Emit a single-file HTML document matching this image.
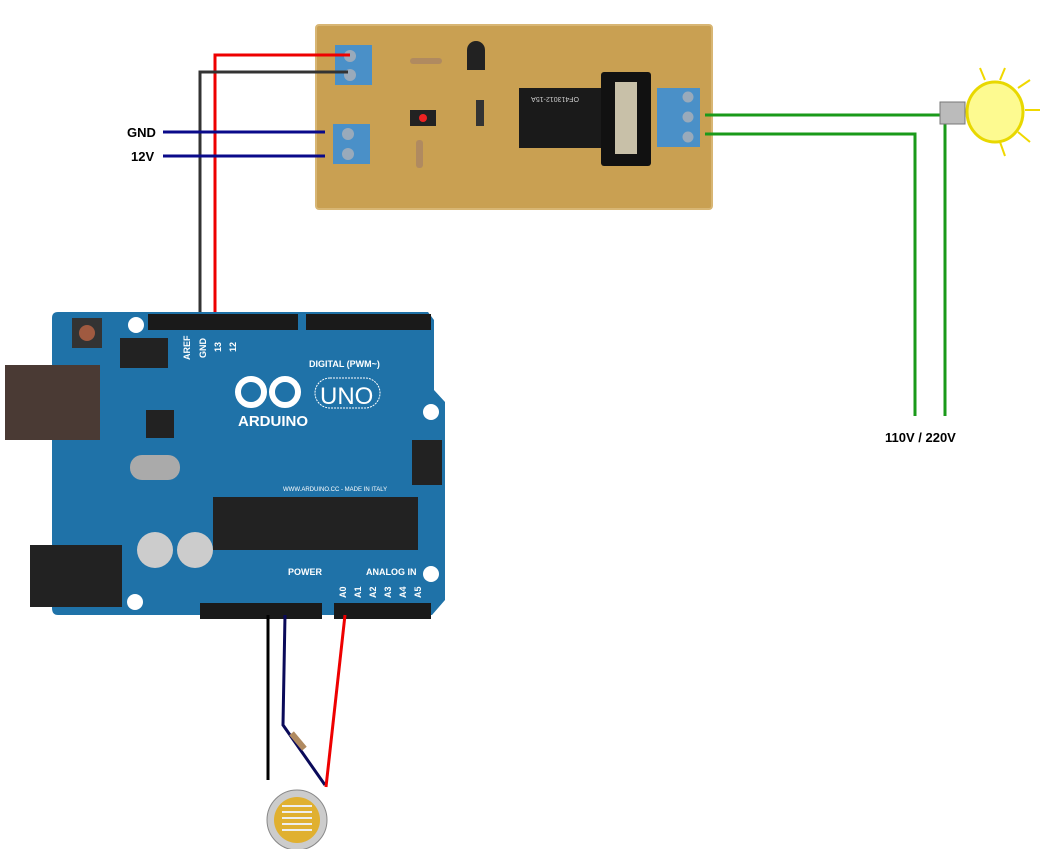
<!DOCTYPE html>
<html><head><style>html,body{margin:0;padding:0;background:#fff}svg{display:block}</style></head>
<body>
<svg width="1051" height="849" viewBox="0 0 1051 849" xmlns="http://www.w3.org/2000/svg" font-family="Liberation Sans, sans-serif">
<rect x="316" y="25" width="396" height="184" rx="3" fill="#c9a052"/>
<rect x="316" y="25" width="396" height="184" rx="3" fill="none" stroke="#d8b674" stroke-width="2"/>
<rect x="335" y="45" width="37" height="40" fill="#4a90c8"/>
<circle cx="350" cy="56" r="6" fill="#9ab"/><circle cx="350" cy="75" r="6" fill="#9ab"/>
<rect x="333" y="124" width="37" height="40" fill="#4a90c8"/>
<circle cx="348" cy="134" r="6" fill="#9ab"/><circle cx="348" cy="154" r="6" fill="#9ab"/>
<rect x="657" y="88" width="43" height="59" fill="#4a90c8"/>
<circle cx="688" cy="97" r="5.5" fill="#9ab"/><circle cx="688" cy="117" r="5.5" fill="#9ab"/><circle cx="688" cy="137" r="5.5" fill="#9ab"/>
<rect x="410" y="58" width="32" height="6" rx="3" fill="#b08a60"/>
<path d="M467 50 a9 9 0 0 1 18 0 v20 h-18z" fill="#222"/>
<rect x="410" y="110" width="26" height="16" fill="#222"/><circle cx="423" cy="118" r="4" fill="#e22"/>
<rect x="416" y="140" width="7" height="28" rx="3" fill="#b08a60"/>
<rect x="476" y="100" width="8" height="26" fill="#333"/>
<rect x="519" y="88" width="87" height="60" fill="#1a1a1a"/>
<text x="545" y="103" font-size="7" fill="#ccc" transform="rotate(180 562 100)">OF413012-15A</text>
<rect x="601" y="72" width="50" height="94" rx="3" fill="#111"/>
<rect x="615" y="82" width="22" height="72" fill="#c8c0a8"/>
<polyline points="350,55 215,55 215,336" fill="none" stroke="#e00" stroke-width="3"/>
<polyline points="348,72 200,72 200,336" fill="none" stroke="#333" stroke-width="3"/>
<line x1="163" y1="132" x2="325" y2="132" stroke="#0a0a8a" stroke-width="3"/>
<line x1="163" y1="156" x2="325" y2="156" stroke="#0a0a8a" stroke-width="3"/>
<text x="127" y="137" font-size="13" font-weight="bold">GND</text>
<text x="131" y="161" font-size="13" font-weight="bold">12V</text>
<polyline points="705,115 945,115 945,416" fill="none" stroke="#1a9a1a" stroke-width="3"/>
<polyline points="705,134 915,134 915,416" fill="none" stroke="#1a9a1a" stroke-width="3"/>
<text x="885" y="442" font-size="13" font-weight="bold">110V / 220V</text>
<g stroke="#f0d800" stroke-width="2">
<line x1="1000" y1="80" x2="1005" y2="68"/><line x1="1018" y1="88" x2="1030" y2="80"/><line x1="1025" y1="110" x2="1040" y2="110"/><line x1="1018" y1="132" x2="1030" y2="142"/><line x1="1000" y1="142" x2="1005" y2="156"/><line x1="985" y1="80" x2="980" y2="68"/></g>
<ellipse cx="995" cy="112" rx="28" ry="30" fill="#fdfa90" stroke="#e8d800" stroke-width="3"/>
<rect x="940" y="102" width="25" height="22" fill="#bbb" stroke="#777"/>
<path d="M58 312 H428 L434 320 V390 L445 402 V600 L432 615 H58 Q52 615 52 608 V318 Q52 312 58 312Z" fill="#1f72a8"/>
<rect x="148" y="314" width="150" height="16" fill="#1a1a1a"/><rect x="306" y="314" width="125" height="16" fill="#1a1a1a"/>
<rect x="200" y="603" width="122" height="16" fill="#1a1a1a"/><rect x="334" y="603" width="97" height="16" fill="#1a1a1a"/>
<rect x="5" y="365" width="95" height="75" fill="#4a3a34"/>
<rect x="30" y="545" width="92" height="62" fill="#222"/>
<rect x="72" y="318" width="30" height="30" fill="#333"/><circle cx="87" cy="333" r="8" fill="#a05a40"/>
<rect x="213" y="497" width="205" height="53" fill="#222"/>
<rect x="130" y="455" width="50" height="25" rx="12" fill="#aaa"/>
<rect x="146" y="410" width="28" height="28" fill="#222"/>
<rect x="412" y="440" width="30" height="45" fill="#222"/>
<rect x="120" y="338" width="48" height="30" fill="#222"/>
<circle cx="155" cy="550" r="18" fill="#ccc"/><circle cx="195" cy="550" r="18" fill="#ccc"/>
<circle cx="136" cy="325" r="8" fill="#fff"/><circle cx="431" cy="412" r="8" fill="#fff"/><circle cx="431" cy="574" r="8" fill="#fff"/><circle cx="135" cy="602" r="8" fill="#fff"/>
<g fill="#fff"><circle cx="251" cy="392" r="13" fill="none" stroke="#fff" stroke-width="6"/><circle cx="285" cy="392" r="13" fill="none" stroke="#fff" stroke-width="6"/>
<text x="238" y="426" font-size="15" font-weight="bold">ARDUINO</text>
<rect x="315" y="378" width="65" height="30" rx="15" fill="none" stroke="#fff" stroke-dasharray="2 1"/>
<text x="320" y="404" font-size="24">UNO</text>
<text x="309" y="367" font-size="9" font-weight="bold">DIGITAL (PWM~)</text>
<text x="288" y="575" font-size="9" font-weight="bold">POWER</text>
<text x="366" y="575" font-size="9" font-weight="bold">ANALOG IN</text>
<text x="283" y="491" font-size="6">WWW.ARDUINO.CC - MADE IN ITALY</text>
<text font-size="9" font-weight="bold" transform="translate(190 360) rotate(-90)">AREF</text>
<text font-size="9" font-weight="bold" transform="translate(206 358) rotate(-90)">GND</text>
<text font-size="9" font-weight="bold" transform="translate(221 352) rotate(-90)">13</text>
<text font-size="9" font-weight="bold" transform="translate(236 352) rotate(-90)">12</text>
<text font-size="9" font-weight="bold" transform="translate(346 598) rotate(-90)">A0</text>
<text font-size="9" font-weight="bold" transform="translate(361 598) rotate(-90)">A1</text>
<text font-size="9" font-weight="bold" transform="translate(376 598) rotate(-90)">A2</text>
<text font-size="9" font-weight="bold" transform="translate(391 598) rotate(-90)">A3</text>
<text font-size="9" font-weight="bold" transform="translate(406 598) rotate(-90)">A4</text>
<text font-size="9" font-weight="bold" transform="translate(421 598) rotate(-90)">A5</text>
</g>
<line x1="268" y1="615" x2="268" y2="780" stroke="#000" stroke-width="3"/>
<polyline points="285,615 283,725 325,785" fill="none" stroke="#0a0a5a" stroke-width="3"/>
<line x1="345" y1="615" x2="326" y2="787" stroke="#e00" stroke-width="3"/>
<rect x="288" y="738" width="20" height="6" fill="#b08a60" transform="rotate(50 298 741)"/>
<circle cx="297" cy="820" r="30" fill="#ccc" stroke="#888"/>
<circle cx="297" cy="820" r="23" fill="#e0b030"/>
<path d="M282 806 h30 M282 812 h30 M282 818 h30 M282 824 h30 M282 830 h30" stroke="#eee" stroke-width="2"/>
</svg>
</body></html>
